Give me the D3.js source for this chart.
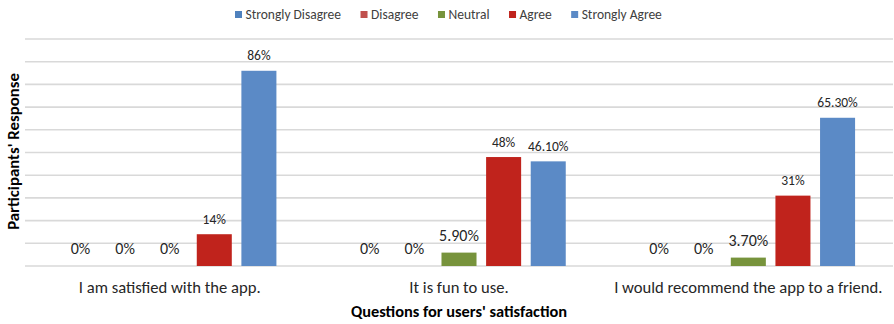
<!DOCTYPE html>
<html>
<head>
<meta charset="utf-8">
<script src="https://cdn.jsdelivr.net/npm/d3@7"></script>
<style>
  html, body { margin: 0; padding: 0; background: #fff; }
  svg { display: block; font-family: Carlito, Lato, "Open Sans", sans-serif; }
</style>
</head>
<body>
<svg id="chart" width="894" height="324"></svg>
<script>
// ---- data ----
const categories = ["I am satisfied with the app.", "It is fun to use.", "I would recommend the app to a friend."];
const seriesNames = ["Strongly Disagree", "Disagree", "Neutral", "Agree", "Strongly Agree"];
const stronglyDisagree = [0, 0, 0];
const disagree = [0, 0, 0];
const neutral = [0, 5.9, 3.7];
const agree = [14, 48, 31];
const stronglyAgree = [86, 46.1, 65.3];
const stronglyDisagreeLabels = ["0%", "0%", "0%"];
const disagreeLabels = ["0%", "0%", "0%"];
const neutralLabels = ["0%", "5.90%", "3.70%"];
const agreeLabels = ["14%", "48%", "31%"];
const stronglyAgreeLabels = ["86%", "46.10%", "65.30%"];
const yTickValues = [0, 10, 20, 30, 40, 50, 60, 70, 80, 90, 100];

const seriesValues = [stronglyDisagree, disagree, neutral, agree, stronglyAgree];
const seriesLabels = [stronglyDisagreeLabels, disagreeLabels, neutralLabels, agreeLabels, stronglyAgreeLabels];
const colors = ["#4F81BD", "#C0504D", "#77933C", "#C0231C", "#5B8AC6"];

// ---- layout ----
const svg = d3.select("#chart");
const plotLeft = 25, plotRight = 893, plotTop = 39, plotBottom = 266;

const x0 = d3.scaleBand().domain(categories).range([plotLeft, plotRight]).padding(0);
const x1 = d3.scaleBand().domain(seriesNames).range([0, x0.bandwidth()])
  .paddingInner(0.215).paddingOuter(0.85);
const y = d3.scaleLinear().domain([0, 100]).range([plotBottom, plotTop]);

// gridlines
svg.append("g").selectAll("line").data(yTickValues).join("line")
  .attr("x1", plotLeft).attr("x2", plotRight)
  .attr("y1", d => y(d)).attr("y2", d => y(d))
  .attr("stroke", "#D9D9D9").attr("stroke-width", 1.6);

// bars
const rows = [];
seriesNames.forEach((s, si) => {
  categories.forEach((c, ci) => {
    rows.push({ s, si, c, v: seriesValues[si][ci], label: seriesLabels[si][ci] });
  });
});

svg.append("g").selectAll("rect").data(rows.filter(d => d.v > 0)).join("rect")
  .attr("x", d => x0(d.c) + x1(d.s))
  .attr("width", x1.bandwidth())
  .attr("y", d => y(d.v))
  .attr("height", d => y(0) - y(d.v))
  .attr("fill", d => colors[d.si]);

// data labels
svg.append("g").selectAll("text").data(rows).join("text")
  .attr("x", d => x0(d.c) + x1(d.s) + x1.bandwidth() / 2)
  .attr("y", d => y(d.v) - (d.v < 10 ? 12 : 10.5))
  .attr("text-anchor", "middle")
  .attr("font-size", d => d.v < 10 ? 16 : 13.5)
  .attr("fill", "#262626")
  .text(d => d.label);

// category labels
svg.append("g").selectAll("text").data(categories).join("text")
  .attr("x", d => x0(d) + x0.bandwidth() / 2)
  .attr("y", 293)
  .attr("text-anchor", "middle")
  .attr("font-size", 16.6)
  .attr("fill", "#262626")
  .text(d => d);

// axis titles
svg.append("text")
  .attr("x", x0(categories[1]) + x0.bandwidth() / 2)
  .attr("y", 317)
  .attr("text-anchor", "middle")
  .attr("font-size", 16.4)
  .attr("font-weight", "bold")
  .attr("fill", "#000")
  .text("Questions for users' satisfaction");

svg.append("text")
  .attr("transform", "translate(19," + ((plotTop + plotBottom) / 2 - 1) + ") rotate(-90)")
  .attr("text-anchor", "middle")
  .attr("font-size", 16.8)
  .attr("font-weight", "bold")
  .attr("fill", "#000")
  .text("Participants' Response");

// legend
const legend = svg.append("g");
let lx = 235;
seriesNames.forEach((s, i) => {
  legend.append("rect").attr("x", lx).attr("y", 11).attr("width", 7).attr("height", 7).attr("fill", colors[i]);
  const t = legend.append("text").attr("x", lx + 10.5).attr("y", 18.8)
    .attr("font-size", 13.5).attr("fill", "#404040").text(s);
  lx += 10.5 + t.node().getComputedTextLength() + 19.5;
});
</script>
</body>
</html>
